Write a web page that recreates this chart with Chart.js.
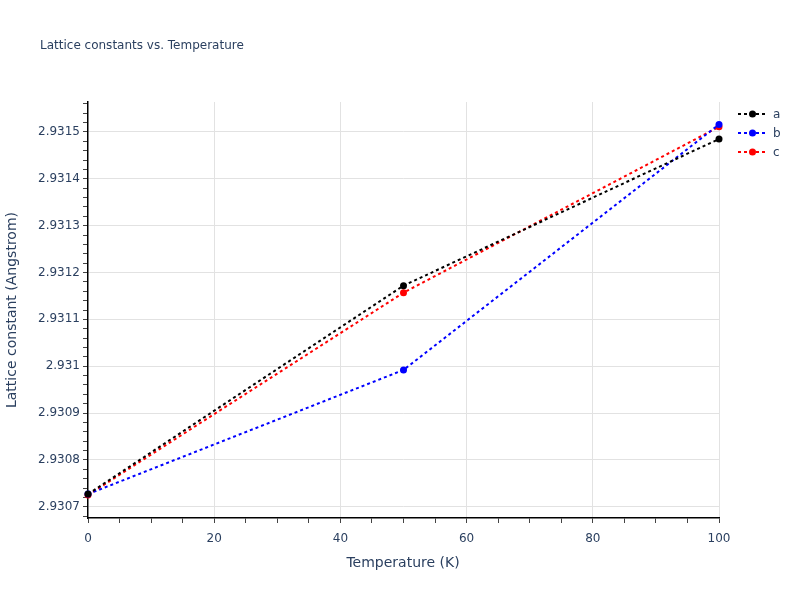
<!DOCTYPE html>
<html>
<head>
<meta charset="utf-8">
<script src="https://cdn.jsdelivr.net/npm/chart.js@4"></script>
<style>
  html, body { margin: 0; padding: 0; background: #fff; }
  #wrap { position: relative; width: 800px; height: 600px; }
</style>
</head>
<body>
<div id="wrap"><canvas id="chart" width="800" height="600"></canvas></div>
<script>
// Lattice constants vs. Temperature

const temperatures = [0, 50, 100];
const seriesA = [2.930727, 2.931172, 2.931485];
const seriesB = [2.930727, 2.930992, 2.931516];
const seriesC = [2.930725, 2.931157, 2.931511];
const seriesNames = ['a', 'b', 'c'];
const seriesColors = ['#000000', '#0000ff', '#ff0000'];

const xTickLabels = [0, 20, 40, 60, 80, 100];
const yTickLabels = [2.9307, 2.9308, 2.9309, 2.931, 2.9311, 2.9312, 2.9313, 2.9314, 2.9315];

const FONT = '"DejaVu Sans", verdana, arial, sans-serif';
const TEXT = '#2a3f5f';
const GRID = '#e2e2e2';

const Y_MIN = 2.930676, Y_MAX = 2.931564;

function isMajorY(v) {
    return yTickLabels.some(t => Math.abs(t - v) < 1e-9);
}

// plotly-style titles and legend drawn on top
const decorations = {
    id: 'decorations',
    afterDraw(chart) {
        const c = chart.ctx;
        c.save();
        c.fillStyle = TEXT;
        c.textBaseline = 'middle';

        c.font = '12px ' + FONT;
        c.textAlign = 'left';
        c.fillText('Lattice constants vs. Temperature', 40, 46);

        c.font = '14px ' + FONT;
        c.textAlign = 'center';
        c.fillText('Temperature (K)', 403, 563);

        c.save();
        c.translate(12, 310);
        c.rotate(-Math.PI / 2);
        c.fillText('Lattice constant (Angstrom)', 0, 0);
        c.restore();

        // legend
        chart.data.datasets.forEach((ds, i) => {
            const y = 114 + i * 19;
            c.strokeStyle = ds.borderColor;
            c.lineWidth = 2;
            c.setLineDash([3, 3]);
            c.beginPath();
            c.moveTo(738, y);
            c.lineTo(767, y);
            c.stroke();
            c.setLineDash([]);
            c.fillStyle = ds.borderColor;
            c.beginPath();
            c.arc(752.5, y, 3.5, 0, Math.PI * 2);
            c.fill();
            c.fillStyle = TEXT;
            c.font = '12px ' + FONT;
            c.textAlign = 'left';
            c.fillText(ds.label, 773, y + 1);
        });
        c.restore();
    }
};

function makeSeries(name, values, color) {
    return {
        label: name,
        data: temperatures.map((t, i) => ({ x: t, y: values[i] })),
        borderColor: color,
        backgroundColor: color,
        borderWidth: 2,
        borderDash: [3, 3],
        pointRadius: 3.5,
        pointHoverRadius: 3.5,
        pointBorderWidth: 0,
        tension: 0,
        clip: false
    };
}

new Chart(document.getElementById('chart'), {
    type: 'line',
    data: {
        datasets: [
            makeSeries(seriesNames[0], seriesA, seriesColors[0]),
            makeSeries(seriesNames[1], seriesB, seriesColors[1]),
            makeSeries(seriesNames[2], seriesC, seriesColors[2])
        ]
    },
    options: {
        responsive: false,
        animation: false,
        devicePixelRatio: 1,
        layout: { padding: { left: 0, top: 102, right: 81, bottom: 0 } },
        plugins: { legend: { display: false }, title: { display: false }, tooltip: { enabled: false } },
        scales: {
            x: {
                type: 'linear',
                min: 0,
                max: 100,
                afterFit(scale) { scale.height = 82; },
                afterBuildTicks(scale) {
                    const ticks = [];
                    for (let v = 0; v <= 100; v += 5) ticks.push({ value: v });
                    scale.ticks = ticks;
                },
                border: { color: '#000', width: 1.5 },
                grid: {
                    color: ctx => (ctx.tick && xTickLabels.includes(ctx.tick.value) && ctx.tick.value !== 0) ? GRID : 'rgba(0,0,0,0)',
                    tickColor: '#444',
                    tickLength: 5,
                    drawTicks: true
                },
                ticks: {
                    autoSkip: false,
                    maxRotation: 0,
                    padding: 9,
                    color: TEXT,
                    font: { family: FONT, size: 12 },
                    callback: v => xTickLabels.includes(v) ? String(v) : ''
                }
            },
            y: {
                type: 'linear',
                min: Y_MIN,
                max: Y_MAX,
                afterFit(scale) { scale.width = 88; },
                afterBuildTicks(scale) {
                    const ticks = [];
                    for (let k = -1; k <= 43; k++) {
                        const v = yTickLabels[0] + k * 0.00002;
                        if (v >= Y_MIN && v <= Y_MAX) ticks.push({ value: v });
                    }
                    scale.ticks = ticks;
                },
                border: { color: '#000', width: 1.5 },
                grid: {
                    color: ctx => (ctx.tick && isMajorY(ctx.tick.value)) ? GRID : 'rgba(0,0,0,0)',
                    tickColor: '#444',
                    tickLength: 5,
                    drawTicks: true
                },
                ticks: {
                    autoSkip: false,
                    padding: 3,
                    color: TEXT,
                    font: { family: FONT, size: 12 },
                    callback: v => {
                        const t = yTickLabels.find(t => Math.abs(t - v) < 1e-9);
                        return t === undefined ? '' : String(t);
                    }
                }
            }
        }
    },
    plugins: [decorations]
});
</script>
</body>
</html>
